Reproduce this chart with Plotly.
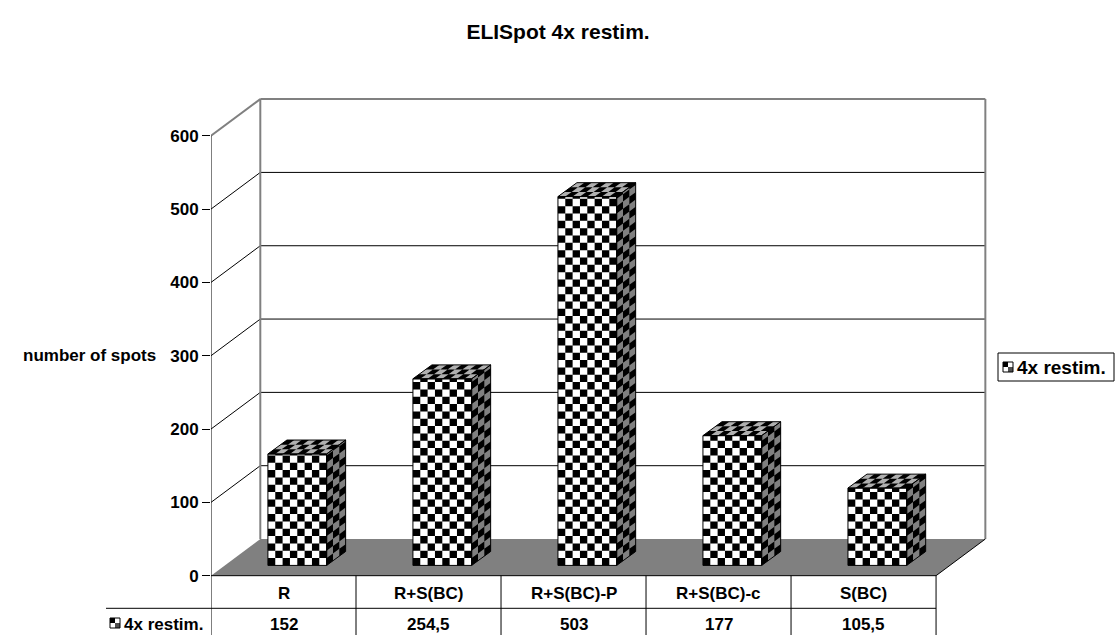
import math
import plotly.graph_objects as go

# ---------------- data ----------------
categories = ["R", "R+S(BC)", "R+S(BC)-P", "R+S(BC)-c", "S(BC)"]
values = [152, 254.5, 503, 177, 105.5]
series_name = "4x restim."
y_ticks = [0, 100, 200, 300, 400, 500, 600]
chart_title = "ELISpot 4x restim."
y_title = "number of spots"

# ---------------- geometry / style constants ----------------
FONT = "Liberation Sans, Arial, sans-serif"
FS = 17
W, H = 1119, 635
ML, MR, MT, MB = 211, 119, 90, 0
Y_MAX = 600
WALL_DX, WALL_DY = 0.34, 50          # back-wall offset (axis units)
BAR_DX, BAR_DY = 0.095, 14           # bar front-face position inside the depth
BAR_W = 0.405
BAR_DEPTH_X, BAR_DEPTH_Y = 0.131, 19
N_COLS, N_DEPTH = 8, 3
CELL_H = 10.0
X_RANGE = [-0.5, 4.941]
Y_RANGE = [-80.9, 662.4]
ROW_SPLIT = -44.5
ROW1_Y, ROW2_Y = -24, -66
GRAY = "#808080"

n = len(categories)
x_left, x_right = -0.5, n - 0.5

def xp(x):  # axis x -> paper x
    return (x - X_RANGE[0]) / (X_RANGE[1] - X_RANGE[0])

def px_x(p):  # pixel -> paper x
    return (p - ML) / (W - ML - MR)

def px_y(p):  # pixel -> paper y
    return (H - MB - p) / (H - MT - MB)

fig = go.Figure()

# ---------------- frame shapes (floor, walls, grid) ----------------
shapes = []
def seg(x0, y0, x1, y1, color="black", width=1, layer="below", xref="x"):
    shapes.append(dict(type="line", xref=xref, yref="y", x0=x0, y0=y0, x1=x1, y1=y1,
                       line=dict(color=color, width=width), layer=layer))

floor_path = (f"M {x_left},0 L {x_left + WALL_DX},{WALL_DY} "
              f"L {x_right + WALL_DX},{WALL_DY} L {x_right},0 Z")
shapes.append(dict(type="path", xref="x", yref="y", path=floor_path,
                   fillcolor=GRAY, line=dict(width=0), layer="below"))
for v in y_ticks[1:-1]:
    seg(x_left + WALL_DX, v + WALL_DY, x_right + WALL_DX, v + WALL_DY)
    seg(x_left, v, x_left + WALL_DX, v + WALL_DY)
seg(x_left, Y_MAX, x_left + WALL_DX, Y_MAX + WALL_DY, GRAY, 2)
seg(x_left + WALL_DX, WALL_DY, x_left + WALL_DX, Y_MAX + WALL_DY, GRAY, 2)
seg(x_left + WALL_DX, Y_MAX + WALL_DY, x_right + WALL_DX, Y_MAX + WALL_DY, GRAY, 2)
seg(x_right + WALL_DX, WALL_DY, x_right + WALL_DX, Y_MAX + WALL_DY, GRAY, 2)
seg(x_left, 0, x_left, Y_MAX)
seg(x_right, 0, x_right + WALL_DX, WALL_DY)

# table lines
seg(x_left, 0, x_right, 0, layer="above")
seg(px_x(106), ROW_SPLIT, xp(x_right), ROW_SPLIT, layer="above", xref="paper")
for k in range(n + 1):
    seg(x_left + k, 0, x_left + k, Y_RANGE[0], layer="above")

def key_icon(x0, x1, y0, y1):
    """small legend key (paper coords)"""
    xm, ym = (x0 + x1) / 2, (y0 + y1) / 2
    shapes.append(dict(type="rect", xref="paper", yref="paper", x0=x0, x1=x1, y0=y0, y1=y1,
                       fillcolor="white", line=dict(width=0), layer="above"))
    shapes.append(dict(type="rect", xref="paper", yref="paper", x0=x0, x1=xm, y0=ym, y1=y1,
                       fillcolor="black", line=dict(width=0), layer="above"))
    shapes.append(dict(type="rect", xref="paper", yref="paper", x0=xm, x1=x1, y0=y0, y1=ym,
                       fillcolor="#505050", line=dict(width=0), layer="above"))
    shapes.append(dict(type="rect", xref="paper", yref="paper", x0=x0, x1=x1, y0=y0, y1=y1,
                       fillcolor="rgba(0,0,0,0)", line=dict(color="black", width=1), layer="above"))

# key inside the table
key_icon(px_x(110), px_x(120), px_y(628), px_y(618))

# manual legend box
shapes.append(dict(type="rect", xref="paper", yref="paper", x0=px_x(998), x1=px_x(1114),
                   y0=px_y(381), y1=px_y(353), fillcolor="white",
                   line=dict(color="black", width=1), layer="above"))
key_icon(px_x(1003), px_x(1013), px_y(372), px_y(362))

# ---------------- bars ----------------
front_bg, front_blk = ([], []), ([], [])
side_bg, side_blk = ([], []), ([], [])
top_bg, top_blk = ([], []), ([], [])
outline = ([], [])

def add_poly(store, pts):
    for qx, qy in pts:
        store[0].append(qx)
        store[1].append(qy)
    store[0].append(pts[0][0]); store[1].append(pts[0][1])
    store[0].append(None); store[1].append(None)

cw = BAR_W / N_COLS
ddx, ddy = BAR_DEPTH_X / N_DEPTH, BAR_DEPTH_Y / N_DEPTH
for i, v in enumerate(values):
    xc = i + BAR_DX
    x0, x1 = xc - BAR_W / 2, xc + BAR_W / 2
    base = BAR_DY
    top = base + v
    n_rows = math.ceil(v / CELL_H)
    # front face
    add_poly(front_bg, [(x0, base), (x1, base), (x1, top), (x0, top)])
    for r in range(n_rows):
        ya = base + r * CELL_H
        yb = min(base + (r + 1) * CELL_H, top)
        for c in range(N_COLS):
            if (r + c) % 2 == 0:
                xa = x0 + c * cw
                add_poly(front_blk, [(xa, ya), (xa + cw, ya), (xa + cw, yb), (xa, yb)])
    # side face
    add_poly(side_bg, [(x1, base), (x1 + BAR_DEPTH_X, base + BAR_DEPTH_Y),
                       (x1 + BAR_DEPTH_X, top + BAR_DEPTH_Y), (x1, top)])
    for r in range(n_rows):
        for d in range(N_DEPTH):
            if (r + N_COLS + d) % 2 == 0:
                xl = x1 + d * ddx
                ya = base + r * CELL_H + d * ddy
                yb = min(base + (r + 1) * CELL_H, top) + d * ddy
                add_poly(side_blk, [(xl, ya), (xl + ddx, ya + ddy), (xl + ddx, yb + ddy), (xl, yb)])
    # top face
    add_poly(top_bg, [(x0, top), (x1, top), (x1 + BAR_DEPTH_X, top + BAR_DEPTH_Y),
                      (x0 + BAR_DEPTH_X, top + BAR_DEPTH_Y)])
    for c in range(N_COLS):
        for d in range(N_DEPTH):
            if (c + d + n_rows) % 2 == 0:
                xa = x0 + c * cw + d * ddx
                ya = top + d * ddy
                add_poly(top_blk, [(xa, ya), (xa + cw, ya), (xa + cw + ddx, ya + ddy), (xa + ddx, ya + ddy)])
    # outlines
    add_poly(outline, [(x0, base), (x1, base), (x1, top), (x0, top)])
    add_poly(outline, [(x1, base), (x1 + BAR_DEPTH_X, base + BAR_DEPTH_Y),
                       (x1 + BAR_DEPTH_X, top + BAR_DEPTH_Y), (x1, top)])
    add_poly(outline, [(x0, top), (x1, top), (x1 + BAR_DEPTH_X, top + BAR_DEPTH_Y),
                       (x0 + BAR_DEPTH_X, top + BAR_DEPTH_Y)])

def poly_trace(store, color, name=None):
    return go.Scatter(x=store[0], y=store[1], mode="lines", fill="toself",
                      fillcolor=color, line=dict(width=0, color=color),
                      hoverinfo="skip", showlegend=False, name=name)

fig.add_trace(poly_trace(front_bg, "white", series_name))
fig.add_trace(poly_trace(front_blk, "black"))
fig.add_trace(poly_trace(side_bg, GRAY))
fig.add_trace(poly_trace(side_blk, "black"))
fig.add_trace(poly_trace(top_bg, "#b0b0b0"))
fig.add_trace(poly_trace(top_blk, "black"))
fig.add_trace(go.Scatter(x=outline[0], y=outline[1], mode="lines",
                         line=dict(color="black", width=1), hoverinfo="skip", showlegend=False))

# ---------------- texts ----------------
def fmt(v):
    return f"{v:g}".replace(".", ",")

annotations = []
bold = dict(family=FONT, size=FS, color="black", weight="bold")
for i, (cat, v) in enumerate(zip(categories, values)):
    annotations.append(dict(x=xp(i), y=ROW1_Y, xref="paper", yref="y", text=cat, showarrow=False,
                            font=bold, xanchor="center", yanchor="middle"))
    annotations.append(dict(x=xp(i), y=ROW2_Y, xref="paper", yref="y", text=fmt(v), showarrow=False,
                            font=bold, xanchor="center", yanchor="middle"))
annotations.append(dict(x=px_x(205), y=ROW2_Y, xref="paper", yref="y", text=series_name,
                        showarrow=False, font=bold, xanchor="right", yanchor="middle"))
annotations.append(dict(x=px_x(158), y=300, xref="paper", yref="y", text=y_title, showarrow=False,
                        font=bold, xanchor="right", yanchor="middle"))
annotations.append(dict(x=px_x(1015), y=px_y(367), xref="paper", yref="paper", text=series_name,
                        showarrow=False, font=dict(family=FONT, size=19, color="black", weight="bold"),
                        xanchor="left", yanchor="middle"))

fig.update_layout(
    width=W, height=H,
    margin=dict(l=ML, r=MR, t=MT, b=MB),
    paper_bgcolor="white", plot_bgcolor="white",
    title=dict(text=chart_title, x=0.4987, xref="container", xanchor="center",
               y=1 - 32 / H, yref="container", yanchor="middle",
               font=dict(family=FONT, size=21, color="black", weight="bold")),
    xaxis=dict(visible=False, range=X_RANGE, fixedrange=True),
    yaxis=dict(range=Y_RANGE, tickvals=y_ticks, ticks="outside", ticklen=8,
               tickcolor="black", tickwidth=1, showgrid=False, zeroline=False,
               showline=False, tickfont=bold, fixedrange=True),
    shapes=shapes,
    annotations=annotations,
    showlegend=False,
)

fig.write_html("out.html")
